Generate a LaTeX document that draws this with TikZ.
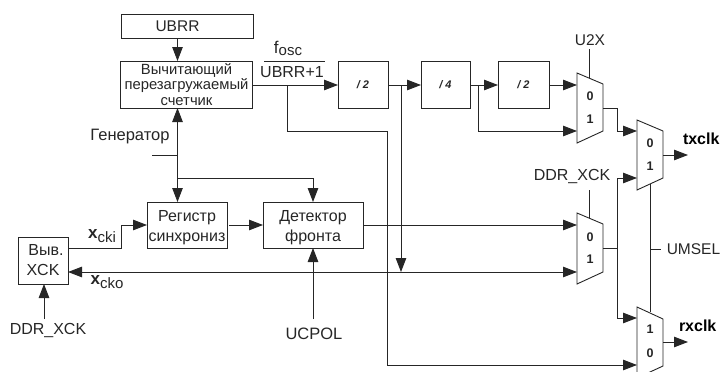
\documentclass[tikz,border=0pt]{standalone}
\usepackage{fontspec}
\setmainfont{Liberation Sans}
\usetikzlibrary{arrows.meta,calc}
\tikzset{
  wire/.style={line width=0.9pt,draw=black!85},
  arr/.style={wire,-{Triangle[length=14pt,width=10.5pt]}},
  box/.style={draw=black!85,line width=0.9pt,inner sep=0pt,outer sep=0pt,align=center,text=black!85,font=\fontsize{16}{20}\selectfont},
  lab/.style={inner sep=0pt,outer sep=0pt,text=black!85,font=\fontsize{15.5}{18}\selectfont},
  blab/.style={inner sep=0pt,outer sep=0pt,font=\bfseries\fontsize{16}{18}\selectfont},
  muxlab/.style={inner sep=0pt,outer sep=0pt,text=black!85,font=\bfseries\fontsize{12.5}{14}\selectfont},
  divlab/.style={box,font=\bfseries\itshape\fontsize{11}{12}\selectfont}
}
\begin{document}
\begin{tikzpicture}[x=1pt,y=-1pt]
\useasboundingbox (0,0) rectangle (720,372);
\clip (0,0) rectangle (720,372);
% boxes
\node[box,minimum width=132pt,minimum height=24pt,font=\fontsize{15.5}{18}\selectfont] (ubrr) at (187,26) {\hspace*{-19pt}UBRR};
\node[box,minimum width=132pt,minimum height=47pt,font=\fontsize{14.8}{15.5}\selectfont] (cnt) at (186.5,84.5) {Вычитающий\\перезагружаемый\\счетчик};
\node[divlab,minimum width=50pt,minimum height=47pt] (d1) at (363,84.5) {/ 2};
\node[divlab,minimum width=49pt,minimum height=47pt] (d2) at (445.5,84.5) {/ 4};
\node[divlab,minimum width=51pt,minimum height=47pt] (d3) at (523.5,84.5) {/ 2};
\node[box,minimum width=80pt,minimum height=46pt] (reg) at (187,225) {\rule{0pt}{17pt}Регистр\\синхрониз};
\node[box,minimum width=100pt,minimum height=46pt] (det) at (313,225) {\rule{0pt}{17pt}Детектор\\фронта};
\node[box,minimum width=50pt,minimum height=47pt] (pin) at (43,260.5) {\hspace*{6pt}Выв.\\XCK};
% muxes
\draw[wire] (577,73) coordinate (m1tl) -- (603,84) coordinate (m1tr) -- (603,131) coordinate (m1br) -- (577,143) coordinate (m1bl) -- cycle;
\draw[wire] (577,213) coordinate (m2tl) -- (603,224) coordinate (m2tr) -- (603,272) coordinate (m2br) -- (577,284) coordinate (m2bl) -- cycle;
\draw[wire] (637,120) coordinate (m3tl) -- (663,131) coordinate (m3tr) -- (663,178) coordinate (m3br) -- (637,190) coordinate (m3bl) -- cycle;
\draw[wire] (637,307) coordinate (m4tl) -- (663,319) coordinate (m4tr) -- (663,366) coordinate (m4br) -- (637,378) coordinate (m4bl) -- cycle;
\node[muxlab] (m1a) at (590,96) {0};
\node[muxlab] (m1b) at (590,119) {1};
\node[muxlab] (m2a) at (590,237) {0};
\node[muxlab] (m2b) at (590,259) {1};
\node[muxlab] (m3a) at (650,143) {0};
\node[muxlab] (m3b) at (650,166) {1};
\node[muxlab] (m4a) at (650,329) {1};
\node[muxlab] (m4b) at (650,353) {0};
% labels
\node[lab] (fosc) at (288,48) {\fontsize{17}{18}\selectfont f\raisebox{-2pt}{\fontsize{15}{16}\selectfont osc}};
\node[lab] (ub1) at (292,72) {\fontsize{16}{18}\selectfont UBRR+1};
\node[lab] (gen) at (130,137) {\fontsize{16.5}{18}\selectfont Генератор};
\node[lab] (u2x) at (590,40) {U2X};
\node[lab] (ddr1) at (572,177) {\fontsize{16}{18}\selectfont DDR\_XCK};
\node[lab] (ddr2) at (48,330) {\fontsize{16}{18}\selectfont DDR\_XCK};
\node[lab] (ucpol) at (314,334) {\fontsize{16.5}{18}\selectfont UCPOL};
\node[lab] (umsel) at (693.5,249) {UMSEL};
\node[blab,anchor=west] (tx) at (683,139) {txclk};
\node[blab,anchor=west] (rx) at (679,326) {rxclk};
\node[lab] (cki) at (102,236) {\fontsize{17}{18}\selectfont\textbf{x}\raisebox{-3.5pt}{\fontsize{15}{16}\selectfont cki}};
\node[lab] (cko) at (107,282) {\fontsize{17}{18}\selectfont\textbf{x}\raisebox{-3.5pt}{\fontsize{15}{16}\selectfont cko}};
% coordinates
\coordinate (b1) at (287,85);
\coordinate (b2) at (401,85);
\coordinate (b3) at (478,85);
\coordinate (hub) at (177.5,178);
\coordinate (stub) at (152,155);
\coordinate (tip) at (401,272);
\coordinate (sel3) at (650,184);
\coordinate (sel4) at (650,312);
% wires
\draw[wire] (264,61) -- (325,61);
\draw[arr] (ubrr.south -| 177.5,0) -- (cnt.north -| 177.5,0);
\draw[arr] (cnt.east |- 0,85) -- (d1.west |- 0,85);
\draw[arr] (d1.east |- 0,85) -- (d2.west |- 0,85);
\draw[arr] (d2.east |- 0,85) -- (d3.west |- 0,85);
\draw[arr] (d3.east |- 0,85) -- (577,85);
\draw[arr] (b3) -- (478,131) -- (577,131);
\draw[wire] (b1) -- (287,131) -- (387,131) -- (387,365);
\draw[arr] (387,365) -- (637,365);
\draw[arr] (b2) -- (tip);
\draw[wire] (589,49) -- (589,78);
\draw[wire] (589,190) -- (589,218);
\draw[wire] (603,108) -- (617,108) -- (617,131);
\draw[arr] (617,131) -- (637,131);
\draw[arr] (617,318) -- (617,178) -- (637,178);
\draw[arr] (617,318) -- (637,318);
\draw[wire] (603,248) -- (617,248);
\draw[arr] (663,155) -- (688,155);
\draw[arr] (663,342) -- (688,342);
\draw[wire] (sel3) -- (sel4);
\draw[wire] (650,249) -- (661,249);
\draw[arr] (177.5,178) -- (177.5,202);
\draw[arr] (hub) -- (cnt.south -| 177.5,0);
\draw[wire] (stub) -- (177.5,155);
\draw[arr] (hub) -- (313,178) -- (det.north);
\draw[arr] (229,225) -- (det.west);
\draw[arr] (det.east) -- (577,225);
\draw[arr] (pin.east |- 0,248) -- (121,248) -- (121,225) -- (reg.west);
\draw[wire,{Triangle[length=14pt,width=10.5pt]}-{Triangle[length=14pt,width=10.5pt]}] (pin.east |- 0,272) -- (577,272);
\draw[arr] (44,319) -- (pin.south -| 44,0);
\draw[arr] (313,319) -- (det.south);
\end{tikzpicture}
\end{document}
